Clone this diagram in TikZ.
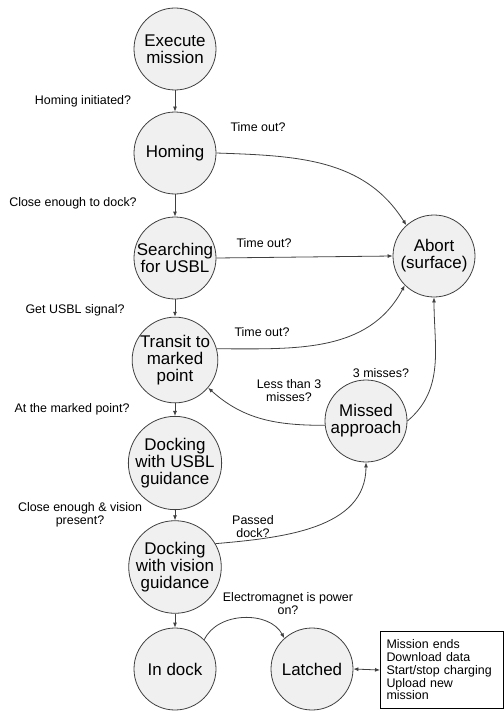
\documentclass[tikz,border=0pt]{standalone}
\usepackage{fontspec}
\setmainfont{Liberation Sans}
\usetikzlibrary{arrows.meta}

\begin{document}
\begin{tikzpicture}[x=1bp,y=1bp,
		state/.style={circle,draw=black!75,fill=black!6,line width=0.8bp,minimum size=82bp,inner sep=0pt,align=center,font=\fontsize{17}{17}\selectfont},
		cond/.style={align=center,inner sep=0pt,font=\fontsize{12.5}{13}\selectfont},
		trans/.style={draw=black!75,line width=0.8bp,-{Latex[length=5bp,width=4bp]}},
		infobox/.style={draw=black,line width=1bp,fill=white,align=left,anchor=north west,minimum width=123bp,minimum height=77bp,text width=111bp,inner xsep=6bp,font=\fontsize{12.5}{12.8}\selectfont}]
				\useasboundingbox (0,0) rectangle (504,-711);
				
				% states
				\node[state] (exec)    at (175,-49)  {Execute\\mission};
				\node[state] (homing)  at (175,-153) {Homing};
				\node[state] (search)  at (175,-258) {Searching\\for USBL};
				\node[state] (transit) at (175,-360) {Transit to\\marked\\point};
				\node[state] (dockusbl) at (175,-463) {Docking\\with USBL\\guidance};
				\node[state] (dockvis) at (175,-567) {Docking\\with vision\\guidance};
				\node[state] (indock)  at (175,-669) {In dock};
				\node[state] (latched) at (312,-669) {Latched};
				\node[state] (abort)   at (434,-256) {Abort\\(surface)};
				\node[state] (missed)  at (366,-421) {Missed\\approach};
				
				\node[infobox] (tasks) at (380,-631) {Mission ends\\Download data\\Start/stop charging\\Upload new\\mission};
				
				% conditions
				\node[cond] (c1)  at (83,-101)  {Homing initiated?};
				\node[cond] (c2)  at (73,-203)  {Close enough to dock?};
				\node[cond] (c3)  at (75,-310)  {Get USBL signal?};
				\node[cond] (c4)  at (72,-409)  {At the marked point?};
				\node[cond] (c5)  at (80,-515)  {Close enough \& vision\\present?};
				\node[cond] (t1)  at (258,-127) {Time out?};
				\node[cond] (t2)  at (264,-243) {Time out?};
				\node[cond] (t3)  at (262,-332) {Time out?};
				\node[cond] (m3)  at (381,-373) {3 misses?};
				\node[cond] (ml)  at (289,-391) {Less than 3\\misses?};
				\node[cond] (pd)  at (253,-527) {Passed\\dock?};
				\node[cond] (em)  at (288,-604) {Electromagnet is power\\on?};
				
				% main sequence
				\draw[trans] (exec) -- (homing);
				\draw[trans] (homing) -- (search);
				\draw[trans] (search) -- (transit);
				\draw[trans] (transit) -- (dockusbl);
				\draw[trans] (dockusbl) -- (dockvis);
				\draw[trans] (dockvis) -- (indock);
				
				% aborts and retries
				\draw[trans] (homing.east) to[out=-2,in=122] (abort.132);
				\draw[trans] (search.east) -- (abort.west);
				\draw[trans] (transit.15) to[out=0,in=-118] (abort.-135);
				\draw[trans] (missed.186) to[out=180,in=-42] (transit.-40);
				\draw[trans] (missed.east) to[out=40,in=-90] (abort.south);
				\draw[trans] (dockvis.30) to[out=5,in=-90] (missed.south);
				\draw[trans] (indock.45) to[out=65,in=118] (latched.132);
				\draw[draw=black!75,line width=0.8bp,{Latex[length=5bp,width=4bp]}-{Latex[length=5bp,width=4bp]}] (latched.east) -- (tasks.west);
\end{tikzpicture}
\end{document}
